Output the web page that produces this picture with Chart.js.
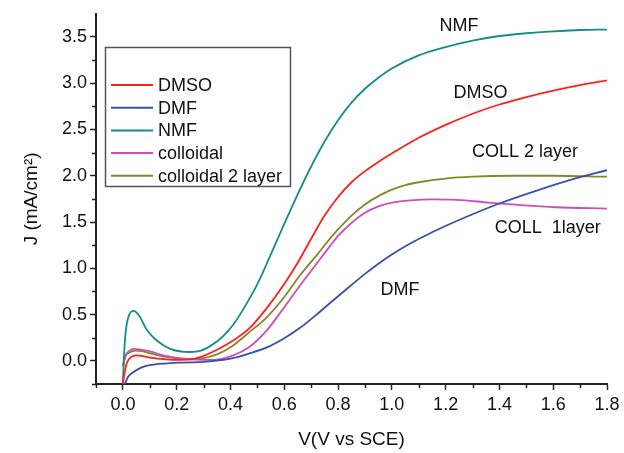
<!DOCTYPE html>
<html>
<head>
<meta charset="utf-8">
<script src="https://cdn.jsdelivr.net/npm/chart.js@4.4.1/dist/chart.umd.min.js"></script>
<style>
  html, body { margin: 0; padding: 0; background: #fff; }
  #wrap { width: 624px; height: 453px; }
</style>
</head>
<body>
<div id="wrap"><canvas id="jvChart" width="624" height="453"></canvas></div>
<script>
// J-V curves, values
const dmsoV = [0, 0.005, 0.015, 0.03, 0.05, 0.075, 0.1, 0.15, 0.2, 0.25, 0.29, 0.35, 0.41, 0.47, 0.535, 0.6, 0.65, 0.7, 0.75, 0.8, 0.85, 0.9, 0.95, 1.0, 1.1, 1.2, 1.3, 1.4, 1.5, 1.6, 1.7, 1.8];
const dmsoJ = [-0.25, -0.15, -0.02, 0.04, 0.06, 0.05, 0.035, 0.02, 0.01, 0.015, 0.043, 0.12, 0.22, 0.35, 0.57, 0.83, 1.06, 1.32, 1.57, 1.77, 1.93, 2.05, 2.15, 2.24, 2.41, 2.55, 2.67, 2.77, 2.85, 2.92, 2.98, 3.03];

const dmfV = [0.007, 0.02, 0.04, 0.07, 0.1, 0.2, 0.3, 0.4, 0.47, 0.535, 0.6, 0.66, 0.72, 0.78, 0.85, 0.9, 0.95, 1.0, 1.07, 1.15, 1.28, 1.4, 1.55, 1.67, 1.8];
const dmfJ = [-0.25, -0.17, -0.12, -0.07, -0.045, -0.02, -0.01, 0.025, 0.08, 0.145, 0.245, 0.36, 0.50, 0.65, 0.82, 0.94, 1.05, 1.15, 1.27, 1.39, 1.56, 1.70, 1.85, 1.96, 2.06];

const nmfV = [0, 0.004, 0.01, 0.02, 0.04, 0.06, 0.09, 0.126, 0.176, 0.25, 0.29, 0.33, 0.37, 0.41, 0.45, 0.5, 0.55, 0.6, 0.65, 0.7, 0.75, 0.8, 0.85, 0.9, 0.95, 1.0, 1.1, 1.2, 1.3, 1.4, 1.5, 1.6, 1.7, 1.8];
const nmfJ = [-0.25, 0.05, 0.3, 0.47, 0.54, 0.49, 0.33, 0.22, 0.13, 0.096, 0.11, 0.17, 0.26, 0.39, 0.57, 0.83, 1.15, 1.48, 1.80, 2.10, 2.37, 2.60, 2.79, 2.94, 3.06, 3.16, 3.30, 3.39, 3.46, 3.51, 3.54, 3.56, 3.575, 3.58];

const collV = [0, 0.01, 0.025, 0.04, 0.06, 0.09, 0.163, 0.25, 0.33, 0.41, 0.47, 0.535, 0.6, 0.66, 0.72, 0.77, 0.8, 0.85, 0.9, 0.95, 1.0, 1.07, 1.15, 1.24, 1.36, 1.49, 1.61, 1.8];
const collJ = [-0.05, 0.06, 0.11, 0.13, 0.125, 0.11, 0.05, 0.015, 0.01, 0.06, 0.15, 0.33, 0.58, 0.82, 1.05, 1.24, 1.35, 1.49, 1.60, 1.67, 1.71, 1.735, 1.745, 1.74, 1.71, 1.68, 1.66, 1.645];

const coll2V = [0, 0.01, 0.025, 0.046, 0.07, 0.09, 0.163, 0.25, 0.3, 0.35, 0.41, 0.47, 0.535, 0.6, 0.66, 0.72, 0.77, 0.8, 0.85, 0.9, 0.95, 1.0, 1.05, 1.1, 1.2, 1.3, 1.45, 1.6, 1.8];
const coll2J = [-0.06, 0.05, 0.09, 0.11, 0.105, 0.09, 0.04, 0.02, 0.03, 0.07, 0.167, 0.31, 0.47, 0.69, 0.93, 1.14, 1.32, 1.42, 1.57, 1.69, 1.78, 1.85, 1.90, 1.93, 1.97, 1.99, 2.0, 2.0, 1.99];

const seriesNames = ['DMSO', 'DMF', 'NMF', 'colloidal', 'colloidal 2 layer'];

// axis ticks
const xTicks = [0.0, 0.2, 0.4, 0.6, 0.8, 1.0, 1.2, 1.4, 1.6, 1.8];
const xMinor = [-0.1, 0.1, 0.3, 0.5, 0.7, 0.9, 1.1, 1.3, 1.5, 1.7];
const yTicks = [0.0, 0.5, 1.0, 1.5, 2.0, 2.5, 3.0, 3.5];
const yMinor = [-0.25, 0.25, 0.75, 1.25, 1.75, 2.25, 2.75, 3.25];

// text labels written next to the curves
const noteTexts = ['NMF', 'DMSO', 'COLL 2 layer', 'COLL  1layer', 'DMF'];

const FONT = '"Liberation Sans", Arial, Helvetica, sans-serif';
const colors = ['#ff1f1f', '#3552a8', '#168c86', '#cc4fb4', '#86862c'];

function toPoints(vs, js) {
    return vs.map((v, i) => ({ x: v, y: js[i] }));
}

const allSeries = [
    toPoints(dmsoV, dmsoJ),
    toPoints(dmfV, dmfJ),
    toPoints(nmfV, nmfJ),
    toPoints(collV, collJ),
    toPoints(coll2V, coll2J)
];

// small ticks between the labelled ones
const minorTicks = {
    id: 'minorTicks',
    afterDraw(chart) {
        const ctx = chart.ctx;
        const xs = chart.scales.x, ys = chart.scales.y;
        const area = chart.chartArea;
        ctx.save();
        ctx.strokeStyle = '#222';
        ctx.lineWidth = 1.5;
        ctx.beginPath();
        xMinor.forEach(v => {
            const px = Math.round(xs.getPixelForValue(v)) + 0.5;
            ctx.moveTo(px, area.bottom);
            ctx.lineTo(px, area.bottom + 4);
        });
        yMinor.forEach(v => {
            const py = Math.round(ys.getPixelForValue(v)) + 0.5;
            ctx.moveTo(area.left, py);
            ctx.lineTo(area.left - 4, py);
        });
        ctx.stroke();
        ctx.restore();
    }
};

// labels on the curves, placed in data units
const notePos = [[1.25, 3.62], [1.33, 2.89], [1.495, 2.26], [1.58, 1.43], [1.03, 0.77]];
const curveNotes = {
    id: 'curveNotes',
    afterDatasetsDraw(chart) {
        const ctx = chart.ctx;
        const xs = chart.scales.x, ys = chart.scales.y;
        ctx.save();
        ctx.font = '18px ' + FONT;
        ctx.fillStyle = '#111';
        ctx.textAlign = 'center';
        ctx.textBaseline = 'middle';
        noteTexts.forEach((t, i) => {
            ctx.fillText(t, xs.getPixelForValue(notePos[i][0]), ys.getPixelForValue(notePos[i][1]));
        });
        ctx.restore();
    }
};

// boxed legend in the upper left, Origin style
const boxLegend = {
    id: 'boxLegend',
    afterDraw(chart) {
        const ctx = chart.ctx;
        const x0 = 105, y0 = 47, w = 185, h = 139;
        ctx.save();
        ctx.fillStyle = '#fff';
        ctx.fillRect(x0, y0, w, h);
        ctx.strokeStyle = '#555';
        ctx.lineWidth = 1.5;
        ctx.strokeRect(x0 + 0.5, y0 + 0.5, w, h);
        ctx.font = '18px ' + FONT;
        ctx.textBaseline = 'middle';
        chart.data.datasets.forEach((ds, i) => {
            const y = y0 + 38 + i * 22.7;
            ctx.strokeStyle = ds.borderColor;
            ctx.lineWidth = 2;
            ctx.beginPath();
            ctx.moveTo(x0 + 6, y);
            ctx.lineTo(x0 + 48, y);
            ctx.stroke();
            ctx.fillStyle = '#111';
            ctx.fillText(ds.label, x0 + 53, y + 1);
        });
        ctx.restore();
    }
};

const ctx = document.getElementById('jvChart').getContext('2d');
const chart = new Chart(ctx, {
    type: 'scatter',
    data: {
        datasets: allSeries.map((pts, i) => ({
            label: seriesNames[i],
            data: pts,
            showLine: true,
            borderColor: colors[i],
            backgroundColor: colors[i],
            borderWidth: 1.8,
            pointRadius: 0,
            cubicInterpolationMode: 'monotone'
        }))
    },
    options: {
        responsive: false,
        animation: false,
        layout: { padding: { top: 8, right: 17, left: 0, bottom: 0 } },
        plugins: {
            legend: { display: false },
            tooltip: { enabled: false }
        },
        scales: {
            x: {
                type: 'linear',
                min: -0.1,
                max: 1.8,
                afterBuildTicks: s => { s.ticks = xTicks.map(v => ({ value: v })); },
                afterFit: s => { s.height = 69; },
                ticks: {
                    callback: v => v.toFixed(1),
                    font: { family: FONT, size: 18 },
                    color: '#111',
                    padding: 4,
                    maxRotation: 0,
                    autoSkip: false
                },
                grid: { drawOnChartArea: false, tickLength: 6, tickWidth: 1.5, tickColor: '#222' },
                border: { color: '#222', width: 2 },
                title: {
                    display: true,
                    text: 'V(V vs SCE)',
                    font: { family: FONT, size: 19 },
                    color: '#111',
                    padding: { top: 0, bottom: 2 }
                }
            },
            y: {
                type: 'linear',
                min: -0.25,
                max: 3.75,
                afterBuildTicks: s => { s.ticks = yTicks.map(v => ({ value: v })); },
                afterFit: s => { s.width = 96; },
                ticks: {
                    callback: v => v.toFixed(1),
                    font: { family: FONT, size: 18 },
                    color: '#111',
                    padding: 3,
                    autoSkip: false
                },
                grid: { drawOnChartArea: false, tickLength: 6, tickWidth: 1.5, tickColor: '#222' },
                border: { color: '#222', width: 2 },
                title: {
                    display: true,
                    text: 'J (mA/cm²)',
                    font: { family: FONT, size: 19 },
                    color: '#111',
                    padding: { top: 20, bottom: 0 }
                }
            }
        }
    },
    plugins: [minorTicks, curveNotes, boxLegend]
});
</script>
</body>
</html>
